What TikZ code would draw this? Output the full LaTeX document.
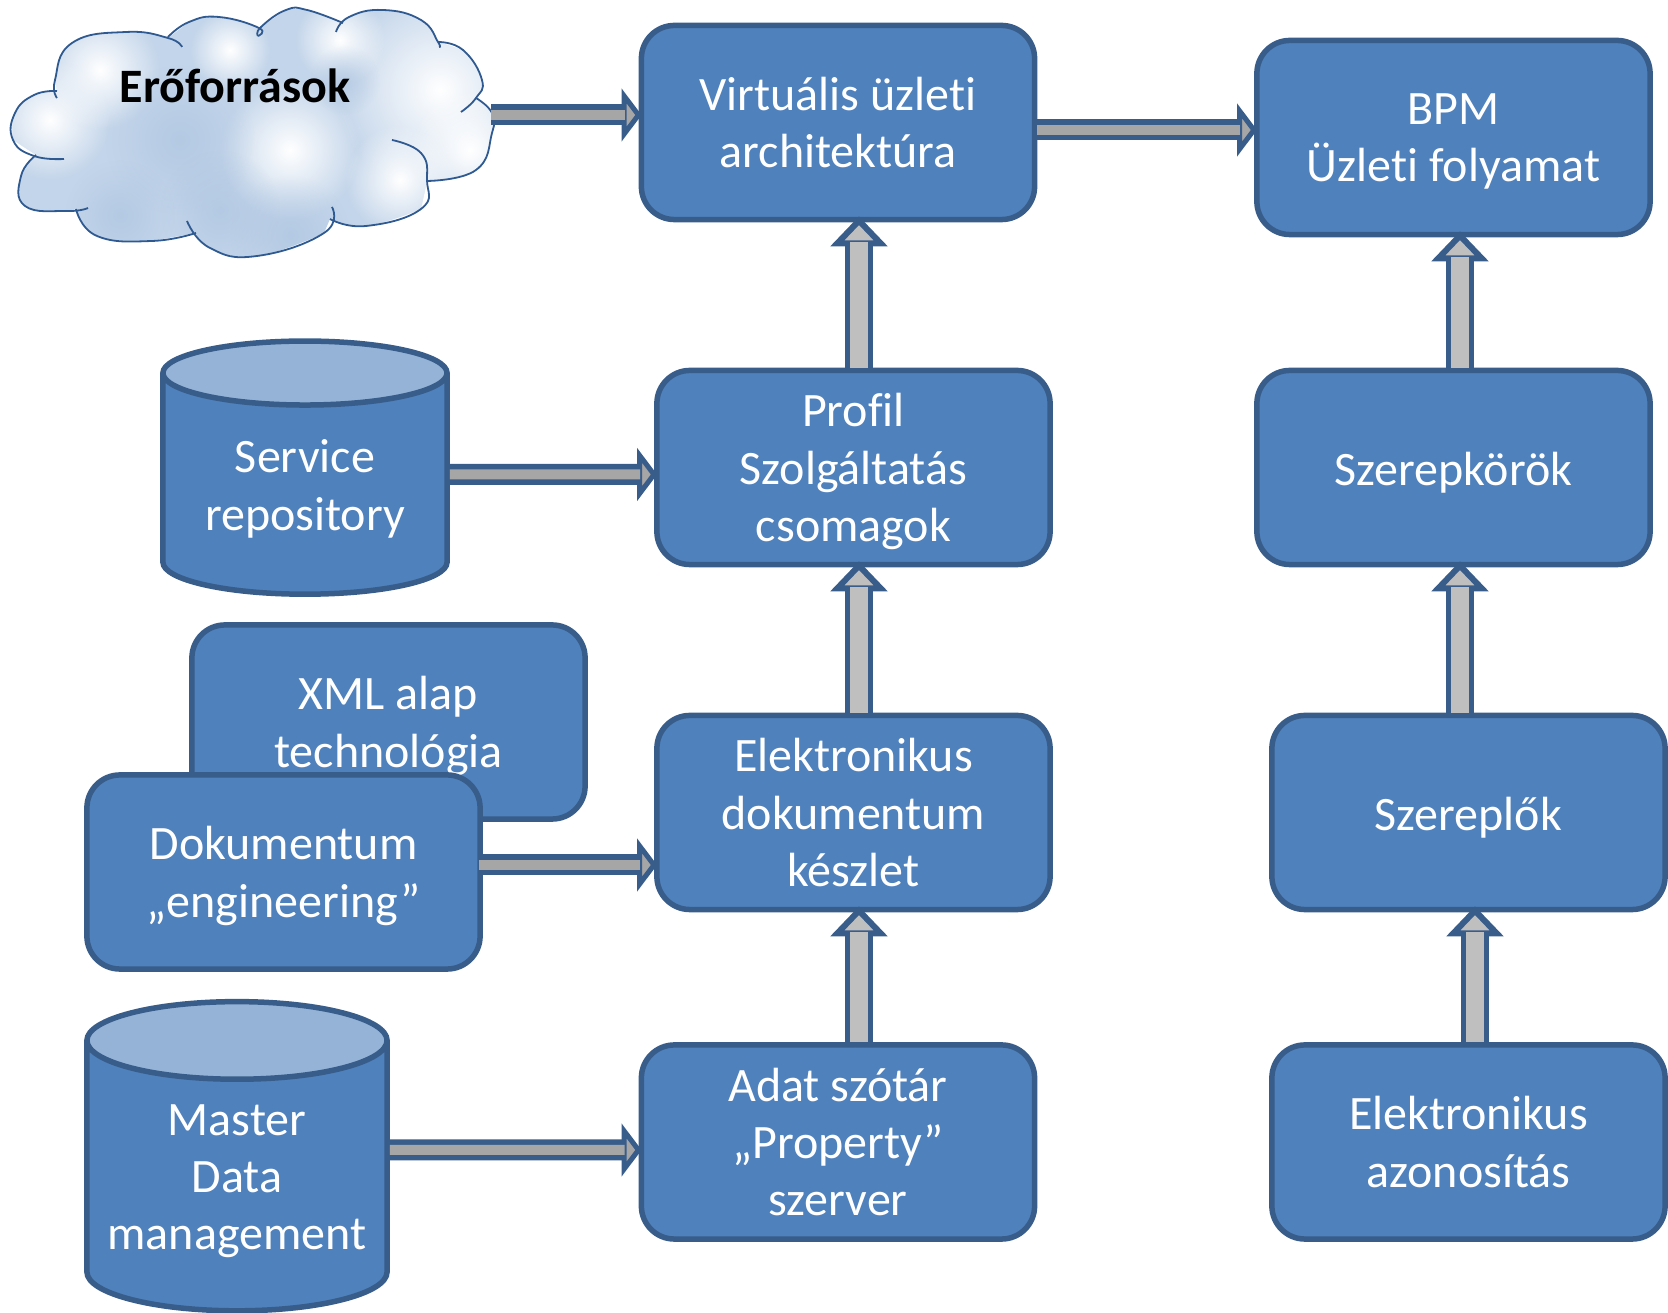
\documentclass[tikz,border=0pt]{standalone}
\usepackage{fontspec}
\setmainfont{Carlito}[Ligatures=NoCommon]
\usepackage{xcolor}
\usepackage{tikz}
\usetikzlibrary{arrows.meta,positioning,shapes.geometric,calc,fadings}

\definecolor{boxblue}{HTML}{4F81BD}
\definecolor{boxline}{HTML}{385D8A}
\definecolor{cyltop}{HTML}{95B3D7}
\definecolor{cloudline}{HTML}{2F5A91}
\definecolor{cloudbase}{HTML}{C3D5EA}

\tikzfading[name=softblob, inner color=transparent!0, outer color=transparent!100]

\tikzset{
  bluebox/.style={draw=boxline, fill=boxblue, line width=0.055cm, rounded corners=0.33cm,
    minimum width=3.93cm, minimum height=1.94cm, inner sep=0pt, align=center, text=white,
    font=\fontsize{13.65}{16.3}\selectfont, text depth=0pt},
  oneline/.style={text height=10.2pt},
  dbcyl/.style={cylinder, shape border rotate=90, draw=boxline, line width=0.055cm,
    cylinder uses custom fill, cylinder body fill=boxblue, cylinder end fill=cyltop,
    inner sep=0pt, align=center, text=white, font=\fontsize{13.65}{16.3}\selectfont},
  hflow/.style={draw=boxline, line width=0.21cm, shorten >=-0.03cm,
    -{Triangle[length=0.2cm, width=0.52cm, line width=0.07cm, fill=black!35, color=boxline]},
    postaction={draw=black!35, line width=0.10cm, arrows=-, shorten >=0.14cm}},
  vflow/.style={draw=boxline, line width=0.28cm, shorten >=-0.06cm,
    -{Triangle[length=0.3cm, width=0.56cm, line width=0.06cm, fill=black!25, color=boxline]},
    postaction={draw=black!25, line width=0.18cm, arrows=-, shorten >=0.2cm}},
  lobe/.style={draw=cloudline, line width=0.018cm, smooth, tension=0.8},
}

\begin{document}
\begin{tikzpicture}[x=0.01cm, y=-0.01cm]
\useasboundingbox (0,0) rectangle (1668,1313);

% Cloud
\def\cloudshape{plot[smooth, tension=0.8] coordinates {(13,140) (15,113) (34,95) (57,91)}
  -- plot[smooth, tension=0.8] coordinates {(55,80) (72,43) (126,32) (168,38)}
  -- plot[smooth, tension=0.8] coordinates {(189,22) (219,17) (259,28)}
  -- plot[smooth, tension=0.8] coordinates {(286,10) (307,10) (343,23)}
  -- plot[smooth, tension=0.8] coordinates {(349,17) (383,10) (421,20) (438,42)}
  -- plot[smooth, tension=0.8] coordinates {(463,50) (482,80) (476,98)}
  -- plot[smooth, tension=0.8] coordinates {(492,113) (492,133) (476,170) (427,181)}
  -- plot[smooth, tension=0.8] coordinates {(421,209) (366,226) (330,219)}
  -- plot[smooth, tension=0.8] coordinates {(324,233) (257,256) (210,248) (196,233)}
  -- plot[smooth, tension=0.8] coordinates {(152,241) (97,236) (76,209)}
  -- plot[smooth, tension=0.8] coordinates {(67,211) (25,206) (21,176) (36,155)} -- cycle}
\begin{scope}
  \clip \cloudshape;
  \fill[cloudbase] (0,0) rectangle (500,260);
  \foreach \x/\y/\r in {440/90/105, 470/150/60, 290/150/70, 400/180/55, 50/120/60, 100/70/60, 340/40/45, 230/50/40} {
    \fill[white, path fading=softblob] (\x,\y) circle (\r);
  }
  \foreach \x/\y/\r in {180/140/75, 290/235/60, 120/215/55, 345/80/35, 220/210/60} {
    \fill[cyltop!80!white, opacity=0.6, path fading=softblob] (\x,\y) circle (\r);
  }
\end{scope}
\draw[lobe] plot coordinates {(57,98) (55,80) (72,43) (126,32) (168,38) (182,47)};
\draw[lobe] plot coordinates {(168,37) (189,22) (219,17) (259,28) (258,36)};
\draw[lobe] plot coordinates {(258,36) (261,27) (286,10) (307,10) (343,23)};
\draw[lobe] plot coordinates {(336,32) (349,17) (383,10) (421,20) (438,42) (439,47)};
\draw[lobe] plot coordinates {(438,42) (463,50) (482,80) (476,98) (461,112)};
\draw[lobe] plot coordinates {(476,98) (492,113) (492,133) (476,170) (427,181)};
\draw[lobe] plot coordinates {(392,140) (421,153) (427,180) (421,209) (366,226) (330,219)};
\draw[lobe] plot coordinates {(332,207) (324,233) (257,256) (210,248) (187,221)};
\draw[lobe] plot coordinates {(196,233) (152,241) (97,236) (76,209)};
\draw[lobe] plot coordinates {(88,208) (67,211) (25,206) (21,176) (36,155)};
\draw[lobe] plot coordinates {(64,159) (34,156) (13,140) (15,113) (34,95) (57,91)};
\node[font=\fontsize{13.65}{16.3}\selectfont\bfseries] (cloudlabel) at (235,86) {Erőforrások};
\coordinate (cloudout) at (491,115);

% Middle column
\node[bluebox] (virt) at (838,122.5) {Virtuális üzleti\\architektúra};
\node[bluebox] (profil) at (853.5,467.5) {Profil\\Szolgáltatás\\csomagok};
\node[bluebox] (elek) at (853.5,812.5) {Elektronikus\\dokumentum\\készlet};
\node[bluebox] (adat) at (838,1142) {Adat szótár\\„Property”\\szerver};

% Right column
\node[bluebox] (bpm) at (1453.5,137.5) {BPM\\Üzleti folyamat};
\node[bluebox, oneline] (szerepkor) at (1453.5,467.5) {Szerepkörök};
\node[bluebox, oneline] (szereplo) at (1468.5,812.5) {Szereplők};
\node[bluebox] (azonos) at (1468.5,1142) {Elektronikus\\azonosítás};

% Left column
\node[dbcyl, minimum width=2.84cm, minimum height=2.53cm, shape aspect=0.32, text depth=-1.7pt] (service) at (305,485) {Service\\repository};
\node[bluebox] (xml) at (388.5,722) {XML alap\\technológia};
\node[bluebox] (doku) at (283.5,872) {Dokumentum\\„engineering”};
\node[dbcyl, minimum width=3cm, minimum height=3.09cm, shape aspect=0.3, text depth=-2.8pt] (master) at (237,1177) {Master\\Data\\management};

% Horizontal arrows
\draw[hflow] (cloudout) -- ($(virt.west)+(0,-7.5)$);
\draw[hflow] ($(virt.east)+(0,7.5)$) -- ($(bpm.west)+(0,-7.5)$);
\draw[hflow] ($(service.east)+(0,-10.5)$) -- ($(profil.west)+(0,7)$);
\draw[hflow] ($(doku.east)+(-4,-7)$) -- ($(elek.west)+(0,52.5)$);
\draw[hflow] ($(master.east)+(0,-27)$) -- ($(adat.west)+(0,8)$);

% Vertical arrows
\draw[vflow] ($(adat.north)+(21,0)$) -- ($(elek.south)+(5.5,0)$);
\draw[vflow] ($(elek.north)+(5.5,0)$) -- ($(profil.south)+(5.5,0)$);
\draw[vflow] ($(profil.north)+(5.5,0)$) -- ($(virt.south)+(21,0)$);
\draw[vflow] ($(azonos.north)+(6.5,0)$) -- ($(szereplo.south)+(6.5,0)$);
\draw[vflow] ($(szereplo.north)+(-8.5,0)$) -- ($(szerepkor.south)+(6.5,0)$);
\draw[vflow] ($(szerepkor.north)+(6.5,0)$) -- ($(bpm.south)+(6.5,0)$);

\end{tikzpicture}
\end{document}
